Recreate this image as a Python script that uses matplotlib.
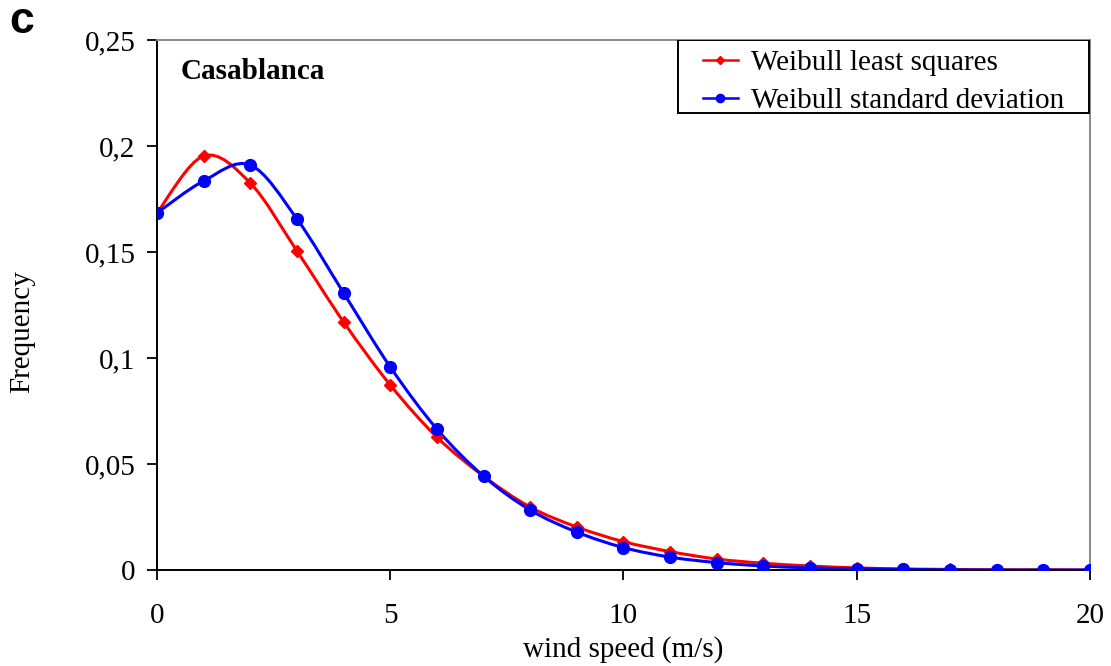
import numpy as np
import matplotlib
matplotlib.use("Agg")
import matplotlib.pyplot as plt
from matplotlib.path import Path
from matplotlib.patches import PathPatch, Rectangle
from matplotlib.ticker import FuncFormatter

# wind speed classes (m/s)
speed = list(range(0, 21))

# Weibull fitted frequencies
least_squares = [0.1684, 0.1953, 0.1825, 0.1505, 0.1170, 0.0873, 0.0627, 0.0443,
                 0.0297, 0.0203, 0.0134, 0.0087, 0.0052, 0.0032, 0.0019, 0.0010,
                 0.0005, 0.0003, 0.0001, 0.0001, 0.0000]
std_deviation = [0.1684, 0.1835, 0.1910, 0.1656, 0.1307, 0.0958, 0.0665, 0.0443,
                 0.0283, 0.0179, 0.0106, 0.0061, 0.0035, 0.0019, 0.0010, 0.0006,
                 0.0003, 0.0001, 0.0000, 0.0000, 0.0000]

plt.rcParams['font.family'] = ['Liberation Serif', 'DejaVu Serif']
FS = 21


def smooth_path(x, y, tension=0.5):
    # Excel-like smoothed line: Catmull-Rom segments as cubic Bezier curves
    x = np.asarray(x, float)
    y = np.asarray(y, float)
    verts = [(x[0], y[0])]
    codes = [Path.MOVETO]
    n = len(x)
    for i in range(n - 1):
        i0 = max(i - 1, 0)
        i3 = min(i + 2, n - 1)
        c1 = (x[i] + (x[i + 1] - x[i0]) * tension / 3, y[i] + (y[i + 1] - y[i0]) * tension / 3)
        c2 = (x[i + 1] - (x[i3] - x[i]) * tension / 3, y[i + 1] - (y[i3] - y[i]) * tension / 3)
        verts += [c1, c2, (x[i + 1], y[i + 1])]
        codes += [Path.CURVE4] * 3
    return Path(verts, codes)


fig = plt.figure(figsize=(11.11, 6.66), dpi=100)
ax = fig.add_axes([0.1413, 0.1441, 0.8397, 0.7959])

for vals, col, mk, ms, lab in [(least_squares, 'red', 'D', 6.5, 'Weibull least squares'),
                               (std_deviation, 'blue', 'o', 8.5, 'Weibull standard deviation')]:
    ax.add_patch(PathPatch(smooth_path(speed, vals), facecolor='none', edgecolor=col,
                           lw=2.2, zorder=2))
    ax.plot(speed, vals, linestyle='none', marker=mk, color=col, ms=ms, zorder=3)
    ax.plot([], [], color=col, marker=mk, ms=ms * 0.7, lw=1.8, label=lab)

ax.set_xlim(0, 20)
ax.set_ylim(0, 0.25)
ax.set_xticks([0, 5, 10, 15, 20])
ax.set_yticks([0, 0.05, 0.1, 0.15, 0.2, 0.25])
ax.yaxis.set_major_formatter(FuncFormatter(lambda v, p: ('%g' % round(v, 2)).replace('.', ',')))
ax.tick_params(direction='out', length=7.5, width=1.3, labelsize=FS)
ax.tick_params(axis='x', pad=16)
ax.tick_params(axis='y', pad=8)
for s in ['left', 'bottom']:
    ax.spines[s].set_linewidth(1.4)
for s in ['top', 'right']:
    ax.spines[s].set_color('#888888')
    ax.spines[s].set_linewidth(1.4)

ax.set_xlabel('wind speed (m/s)', fontsize=FS, va='center')
ax.xaxis.set_label_coords(0.5, -0.150)
ax.set_ylabel('Frequency', fontsize=FS, va='center', ha='center')
ax.yaxis.set_label_coords(-0.1447, 0.449)
ax.text(0.025, 0.94, 'Casablanca', transform=ax.transAxes, fontsize=FS,
        fontweight='bold', va='center')

# legend without frame, boxed by a plain rectangle like the original
leg = ax.legend(loc='upper left', bbox_to_anchor=(0.585, 0.982), fontsize=FS,
                frameon=False, handlelength=1.2, handletextpad=0.45,
                borderpad=0.0, labelspacing=0.4, borderaxespad=0)
ax.add_patch(Rectangle((0.5582, 0.862), 0.4406, 0.138, transform=ax.transAxes,
                       facecolor='white', edgecolor='black', lw=1.4, zorder=4))
leg.set_zorder(5)

fig.text(0.008, 0.9505, 'c', fontsize=32, fontweight='bold', family='Liberation Sans',
         va='baseline')

fig.savefig('out.png', dpi=100)
